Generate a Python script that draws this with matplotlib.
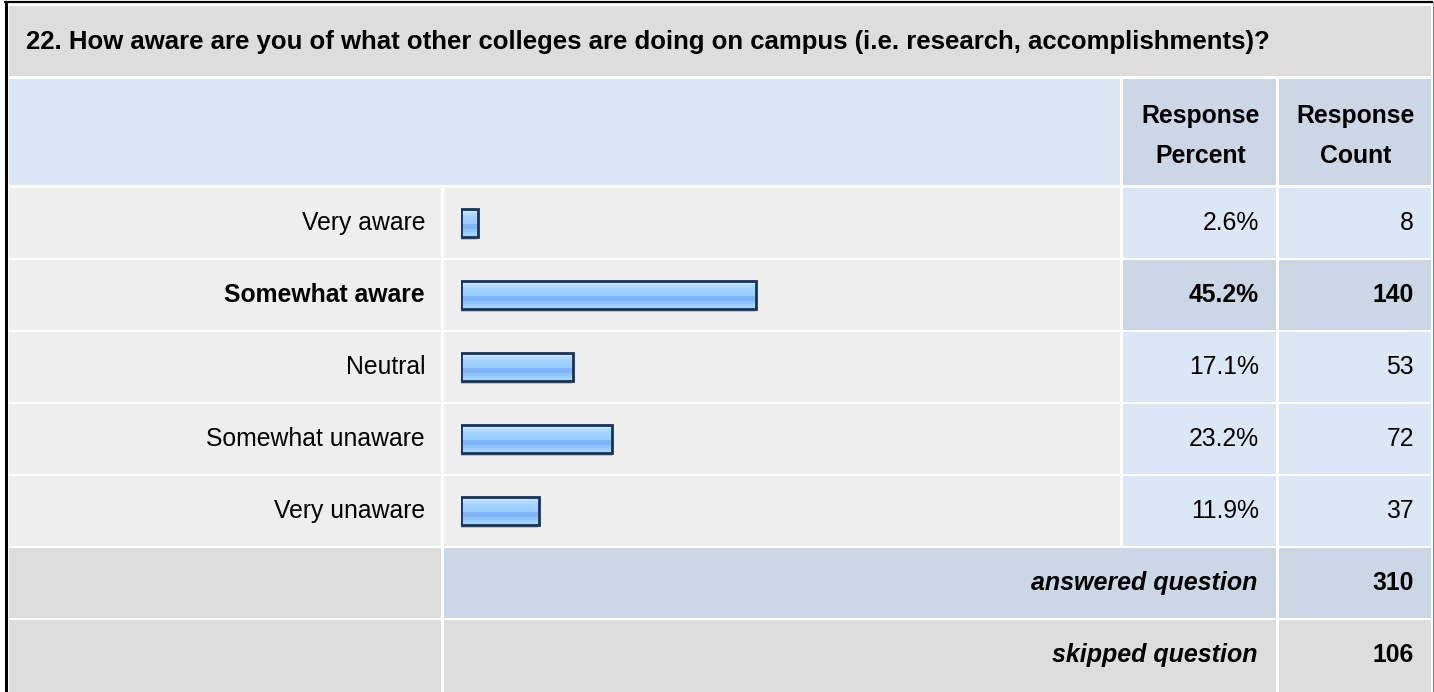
import numpy as np
import matplotlib
matplotlib.use("Agg")
import matplotlib.pyplot as plt
from matplotlib.patches import Rectangle
from matplotlib.colors import ListedColormap

plt.rcParams['font.family'] = ['Liberation Sans', 'DejaVu Sans']

# survey data
title = "22. How aware are you of what other colleges are doing on campus (i.e. research, accomplishments)?"
answers = ["Very aware", "Somewhat aware", "Neutral", "Somewhat unaware", "Very unaware"]
percents = [2.6, 45.2, 17.1, 23.2, 11.9]
counts = [8, 140, 53, 72, 37]
answered = 310
skipped = 106

# colours
GREY = "#dddddd"
LIGHT = "#eeeeee"
BLUE = "#dce7f5"
BLUE_DARK = "#cbd7e5"
EDGE = "#1b3257"

W, H = 1434, 692
fig = plt.figure(figsize=(W / 100, H / 100), dpi=100)
ax = fig.add_axes([0, 0, 1, 1])
ax.set_xlim(0, W)
ax.set_ylim(H, 0)
ax.axis("off")

# column edges (pixels)
cols = [(9, 441), (444, 1120), (1123, 1276), (1279, 1431)]
row_top = 188
pitch = 72
row_h = 70
fs = 17.8       # table text
fs_title = 18.5
fs_foot = 18


def cell(x0, x1, y0, y1, color):
    ax.add_patch(Rectangle((x0, y0), x1 - x0, y1 - y0, facecolor=color, edgecolor="none"))


# outer frame
ax.plot([5.5, 5.5], [1, H], color="black", lw=2.2, solid_capstyle="butt")
ax.plot([4, 1433], [2, 2], color="black", lw=1.6, solid_capstyle="butt")
ax.plot([1432.5, 1432.5], [2, H], color="#888888", lw=0.8)

# title row
cell(9, 1431, 6, 76, GREY)
ax.text(26, 42, title, fontsize=fs_title, fontweight="bold", va="center", ha="left")

# header row
cell(9, 1120, 79, 185, BLUE)
for (x0, x1), word in zip(cols[2:], ["Percent", "Count"]):
    cell(x0, x1, 79, 185, BLUE_DARK)
    ax.text((x0 + x1) / 2 + 1, 136, "Response\n" + word, fontsize=fs, fontweight="bold",
            ha="center", va="center", linespacing=1.8)

best = int(np.argmax(counts))
for i, (lab, p, c) in enumerate(zip(answers, percents, counts)):
    y0 = row_top + i * pitch
    y1 = y0 + row_h
    yc = (y0 + y1) / 2
    cell(*cols[0], y0, y1, LIGHT)
    cell(*cols[1], y0, y1, LIGHT)
    shade = BLUE_DARK if i == best else BLUE
    cell(*cols[2], y0, y1, shade)
    cell(*cols[3], y0, y1, shade)
    w = "bold" if i == best else "normal"
    ax.text(425, yc, lab, fontsize=fs, fontweight=w, ha="right", va="center")
    ax.text(1259, yc, f"{p:.1f}%", fontsize=fs, fontweight=w, ha="right", va="center")
    ax.text(1414, yc, f"{c}", fontsize=fs, fontweight=w, ha="right", va="center")

# footer rows
n = len(answers)
footer = [("answered question", answered, BLUE_DARK), ("skipped question", skipped, GREY)]
for k, (lab, val, shade) in enumerate(footer):
    y0 = row_top + (n + k) * pitch
    y1 = H if k == len(footer) - 1 else y0 + row_h
    yc = y0 + 35
    cell(*cols[0], y0, y1, GREY)
    cell(cols[1][0], cols[2][1], y0, y1, shade)
    cell(*cols[3], y0, y1, shade)
    ax.text(1257, yc, lab, fontsize=fs_foot, fontweight="bold", fontstyle="italic",
            ha="right", va="center")
    ax.text(1414, yc, f"{val}", fontsize=fs, fontweight="bold", ha="right", va="center")

# bar axes over the bar column
bx0, bw = 461, 653
by0 = row_top - 1
bh = pitch * n
axb = fig.add_axes([bx0 / W, 1 - (by0 + bh) / H, bw / W, bh / H])
axb.set_facecolor("none")
axb.axis("off")

stripes = ["#d2eaff", "#c0e1ff", "#acd7ff", "#a0d1ff", "#9dcfff", "#9acdff",
           "#7eb5f6", "#7eb5f6", "#8dc3ff", "#9ccfff", "#a3d3ff"]
cmap = ListedColormap(stripes)
grad = np.arange(len(stripes)).reshape(-1, 1)
bar_h = 0.4
for i, p in enumerate(percents):
    axb.imshow(grad, cmap=cmap, aspect="auto", interpolation="nearest",
               extent=(0, p, i + bar_h / 2, i - bar_h / 2), zorder=1)
    # faint shadow
    axb.barh(i + 0.03, p, height=bar_h, left=-0.15, color="#9aa3b5", alpha=0.6, zorder=0)
axb.barh(range(n), percents, height=bar_h, facecolor="none", edgecolor=EDGE,
         linewidth=2.0, zorder=2)
axb.set_xlim(0, 100)
axb.set_ylim(n - 0.5, -0.5)

fig.savefig("out.png", dpi=100)
